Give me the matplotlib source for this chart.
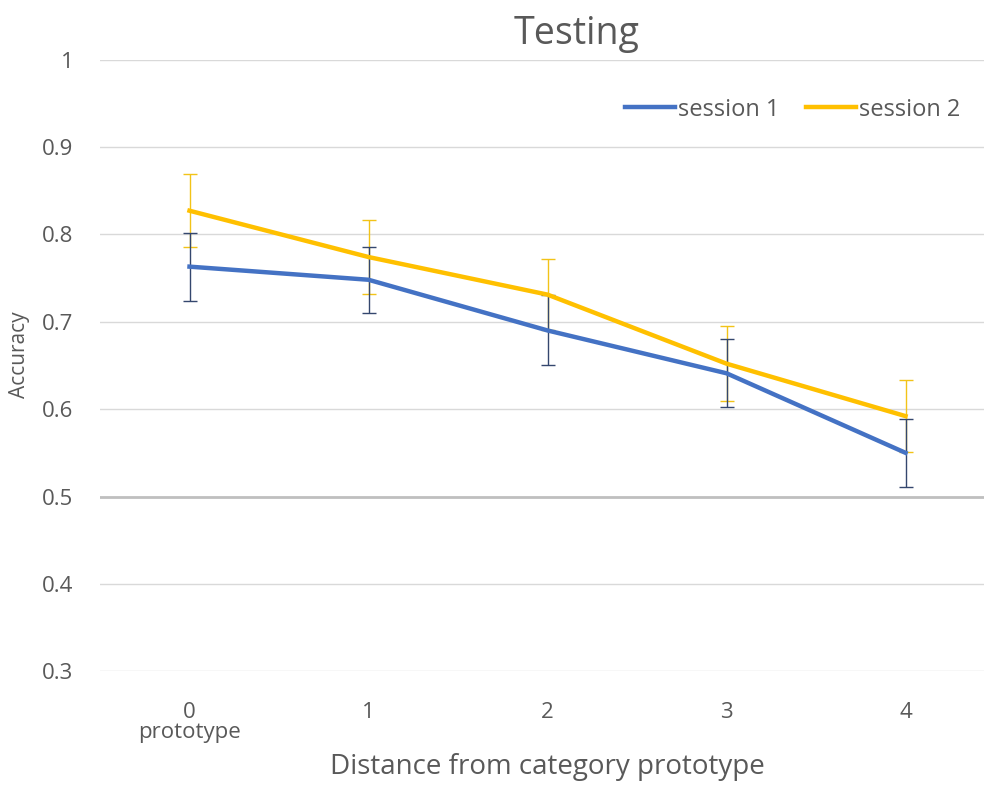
import numpy as np
import matplotlib.pyplot as plt

plt.rcParams["font.family"] = ["Open Sans", "DejaVu Sans"]

distance = [0, 1, 2, 3, 4]
tick_labels = ["0\nprototype", "1", "2", "3", "4"]
session1 = [0.763, 0.748, 0.690, 0.641, 0.550]
session1_err = [0.039, 0.038, 0.040, 0.039, 0.039]
session2 = [0.827, 0.774, 0.731, 0.652, 0.592]
session2_err = [0.042, 0.042, 0.041, 0.043, 0.041]

fig = plt.figure(figsize=(9.84, 7.86), dpi=100)
ax = fig.add_axes([100 / 984, 0.1459, 895 / 984, 0.7784])

# error bars first, lines on top
ax.errorbar(distance, session2, yerr=session2_err, fmt="none", ecolor="#F2C318",
            elinewidth=1, capsize=5, capthick=1, zorder=3)
ax.errorbar(distance, session1, yerr=session1_err, fmt="none", ecolor="#34476E",
            elinewidth=1, capsize=5, capthick=1, zorder=3)
ax.plot(distance, session1, color="#4472C4", lw=3.2, label="session 1", zorder=4)
ax.plot(distance, session2, color="#FFC000", lw=3.2, label="session 2", zorder=4)

ax.set_xlim(-0.5, 4.5)
ax.set_ylim(0.3, 1.0)
ax.set_yticks([0.3, 0.4, 0.5, 0.6, 0.7, 0.8, 0.9, 1.0])
ax.set_yticklabels(["0.3", "0.4", "0.5", "0.6", "0.7", "0.8", "0.9", "1"])
ax.set_xticks(distance)
ax.set_xticklabels(tick_labels, linespacing=0.95)
ax.tick_params(axis="both", length=0, labelsize=16, labelcolor="#595959")
ax.tick_params(axis="y", pad=19)
ax.tick_params(axis="x", pad=22)

ax.grid(axis="y", color="#D9D9D9", lw=1)
ax.axhline(0.5, color="#BFBFBF", lw=2, zorder=2)
for s in ax.spines.values():
    s.set_visible(False)

ax.set_title("Testing", fontsize=27, color="#595959", pad=11)
ax.title.set_x(0.533)
ax.set_ylabel("Accuracy", fontsize=15, color="#595959")
ax.yaxis.set_label_coords(-0.078, 0.517)
ax.set_xlabel("Distance from category prototype", fontsize=20, color="#595959", labelpad=7)

ax.legend(loc="center right", bbox_to_anchor=(0.985, 0.918), ncol=2, frameon=False,
          fontsize=17, labelcolor="#595959", handlelength=2.1, handletextpad=0.15,
          columnspacing=1.1)

fig.savefig("out.png", dpi=100)
